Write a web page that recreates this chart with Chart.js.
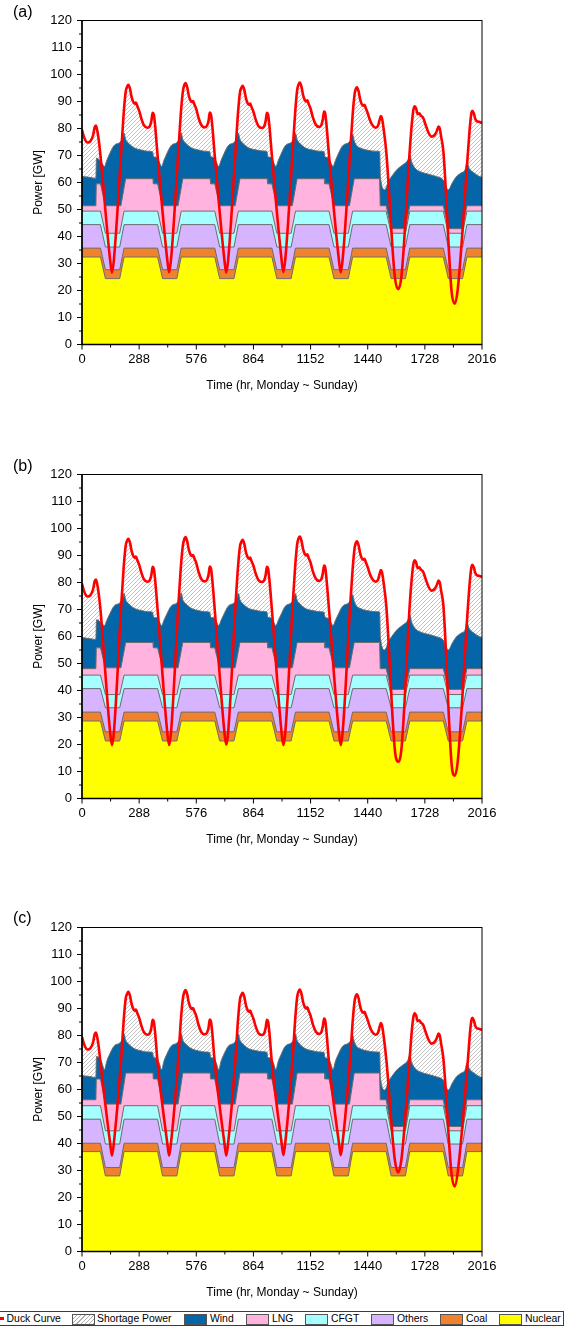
<!DOCTYPE html>
<html>
<head>
<meta charset="utf-8">
<title>Weekly duck curve and supply stack</title>
<script src="https://cdn.jsdelivr.net/npm/chart.js@4.4.1/dist/chart.umd.min.js"></script>
<style>
    html, body { margin: 0; padding: 0; background: #fff; }
    body { width: 574px; height: 1326px; position: relative; overflow: hidden; font-family: "Liberation Sans", Arial, sans-serif; color: #000; }
    .panel { position: absolute; left: 0; width: 574px; height: 400px; }
    .panel canvas { display: block; }
    .tag { position: absolute; left: 13px; font-size: 16px; line-height: 16px; }
    .legend-box { position: absolute; left: -1px; top: 1311px; width: 565px; height: 15px; border: 1px solid #3c3c3c; box-sizing: border-box; }
    .sw { position: absolute; top: 1314px; width: 23px; height: 10.5px; border: 1px solid #555; box-sizing: border-box; }
    .lbl { position: absolute; top: 1312px; font-size: 10.4px; line-height: 13px; white-space: nowrap; }
    .duck-mark { position: absolute; left: -8px; top: 1317px; width: 12px; height: 2.6px; background: #ff0000; }
</style>
</head>
<body>
<div class="panel" style="top:0px"><canvas id="panelA" width="574" height="400"></canvas></div>
<div class="panel" style="top:454px"><canvas id="panelB" width="574" height="400"></canvas></div>
<div class="panel" style="top:907px"><canvas id="panelC" width="574" height="400"></canvas></div>
<div class="tag" style="top:4px">(a)</div>
<div class="tag" style="top:458px">(b)</div>
<div class="tag" style="top:910px">(c)</div>

<div class="legend-box"></div>
<div class="duck-mark"></div>
<div class="lbl" style="left:6.6px">Duck Curve</div>
<div class="sw" style="left:72px;background:repeating-linear-gradient(-45deg,#b0b0b0 0 0.8px,#fff 0.8px 3px)"></div>
<div class="lbl" style="left:97px">Shortage Power</div>
<div class="sw" style="left:184px;background:#0466a8"></div>
<div class="lbl" style="left:210px">Wind</div>
<div class="sw" style="left:246px;background:#ffb3de"></div>
<div class="lbl" style="left:272px">LNG</div>
<div class="sw" style="left:305px;background:#a6ffff"></div>
<div class="lbl" style="left:331px">CFGT</div>
<div class="sw" style="left:371px;background:#d7b4ff"></div>
<div class="lbl" style="left:397px">Others</div>
<div class="sw" style="left:440px;background:#f0822e"></div>
<div class="lbl" style="left:466px">Coal</div>
<div class="sw" style="left:499px;background:#ffff00"></div>
<div class="lbl" style="left:525px">Nuclear</div>

<script>
// axis ticks
const hourTicks = [0, 288, 576, 864, 1152, 1440, 1728, 2016];
const hourMinorTicks = [144, 432, 720, 1008, 1296, 1584, 1872];
const powerTicks = [0, 10, 20, 30, 40, 50, 60, 70, 80, 90, 100, 110, 120];
const powerMinorTicks = [5, 15, 25, 35, 45, 55, 65, 75, 85, 95, 105, 115];

// thermal units follow the same daily trapezoid: 0 = normal level, 1 = midday turn-down
const thermalHr = [0, 93, 118, 190, 212, 381, 406, 478, 500, 669, 694, 766, 788, 957, 982, 1054, 1076,
    1245, 1270, 1342, 1364, 1533, 1558, 1630, 1652, 1821, 1846, 1918, 1940, 2016];
const thermalDip = [0, 0, 1, 1, 0, 0, 1, 1, 0, 0, 1, 1, 0, 0, 1, 1, 0,
    0, 1, 1, 0, 0, 1, 1, 0, 0, 1, 1, 0, 0];

// [normal, turned down] top of each layer, panels a / b / c
const nuclearLevels = [[32.4, 24.4], [28.7, 21.3], [37.0, 28.0]];
const coalLevels = [[35.7, 27.7], [32.0, 24.7], [40.1, 31.1]];
const othersLevels = [[44.4, 36.1], [40.7, 33.6], [49.0, 39.8]];
const cfgtLevels = [[49.4, 41.2], [45.7, 38.5], [54.0, 44.7]];

// LNG top
const lngHr = [0, 70, 72, 93, 118, 196, 220,
    358, 360, 381, 406, 484, 508,
    646, 648, 669, 694, 772, 796,
    934, 936, 957, 982, 1060, 1084,
    1222, 1224, 1245, 1270, 1348, 1372,
    1500, 1503, 1533, 1558, 1630, 1652,
    1821, 1846, 1918, 1940, 2016];
const lngA = [51.4, 51.4, 59.5, 59.5, 51.4, 51.4, 61.4,
    61.4, 59.5, 59.5, 51.4, 51.4, 61.4,
    61.4, 59.5, 59.5, 51.4, 51.4, 61.4,
    61.4, 59.5, 59.5, 51.4, 51.4, 61.4,
    61.4, 59.5, 59.5, 51.4, 51.4, 61.4,
    61.4, 51.4, 51.4, 42.9, 42.9, 51.4,
    51.4, 42.9, 42.9, 51.4, 51.4];
const lngB = [48.1, 48.1, 55.8, 55.8, 48.4, 48.4, 57.8,
    57.8, 55.8, 55.8, 48.4, 48.4, 57.8,
    57.8, 55.8, 55.8, 48.4, 48.4, 57.8,
    57.8, 55.8, 55.8, 48.4, 48.4, 57.8,
    57.8, 55.8, 55.8, 48.4, 48.4, 57.8,
    57.8, 48.1, 48.1, 40.4, 40.4, 48.1,
    48.1, 40.4, 40.4, 48.1, 48.1];
const lngC = [56.2, 56.2, 63.9, 63.9, 54.6, 54.6, 66.1,
    66.1, 63.9, 63.9, 54.6, 54.6, 66.1,
    66.1, 63.9, 63.9, 54.6, 54.6, 66.1,
    66.1, 63.9, 63.9, 54.6, 54.6, 66.1,
    66.1, 63.9, 63.9, 54.6, 54.6, 66.1,
    66.1, 56.2, 56.2, 46.3, 46.3, 56.2,
    56.2, 46.3, 46.3, 56.2, 56.2];

// wind top
const windHr = [0, 40, 70, 73, 86, 100, 113, 125, 141, 155, 166, 190, 204, 212, 220, 234, 250, 267,
    300, 330, 356, 360, 376, 390, 401, 413, 429, 443, 454, 478, 492, 500, 508, 522, 538, 555,
    588, 618, 644, 648, 664, 678, 689, 701, 717, 731, 742, 766, 780, 788, 796, 810, 826, 843,
    876, 906, 932, 936, 952, 966, 977, 989, 1005, 1019, 1030, 1054, 1068, 1076, 1084, 1098, 1114, 1131,
    1164, 1194, 1220, 1224, 1240, 1254, 1265, 1277, 1293, 1307, 1318, 1342, 1356, 1364, 1372, 1386, 1402, 1419,
    1452, 1480, 1500, 1504, 1526, 1545, 1567, 1590, 1618, 1643, 1652, 1662, 1680, 1702, 1750,
    1786, 1820, 1846, 1866, 1887, 1910, 1930, 1940, 1952, 1975, 2004, 2016];
const windA = [62.2, 61.9, 61.5, 69.0, 68.5, 67.2, 65.9, 68.2, 70.9, 73.0, 74.0, 74.8, 76.3, 78.3, 76.0, 74.6, 73.5, 72.7,
    72.0, 71.6, 71.4, 69.6, 69.3, 67.5, 65.9, 68.2, 70.9, 73.0, 74.0, 74.8, 76.3, 78.4, 76.0, 74.6, 73.5, 72.7,
    72.0, 71.6, 71.4, 69.6, 69.3, 67.5, 65.9, 68.2, 70.9, 73.0, 74.0, 74.8, 76.3, 78.3, 76.0, 74.6, 73.5, 72.7,
    72.1, 71.7, 71.5, 69.6, 69.3, 67.4, 65.9, 68.1, 70.8, 73.0, 74.0, 74.8, 76.2, 78.2, 75.9, 74.5, 73.4, 72.6,
    72.0, 71.6, 71.4, 69.6, 69.2, 67.4, 65.9, 68.1, 70.8, 72.9, 73.9, 74.7, 76.0, 77.8, 75.5, 73.5, 72.8, 72.3,
    71.8, 71.6, 71.5, 62.0, 57.3, 60.5, 62.9, 65.0, 66.6, 68.4, 70.3, 67.5, 65.2, 64.1, 63.0,
    62.2, 61.0, 57.3, 59.8, 62.2, 63.5, 64.6, 67.2, 65.2, 63.6, 62.2, 62.0];
const windB = [59.6, 59.2, 58.9, 66.2, 65.8, 64.8, 64.0, 66.0, 68.5, 70.6, 71.6, 72.4, 74.0, 76.0, 73.6, 72.2, 71.1, 70.3,
    69.6, 69.2, 69.0, 67.2, 66.9, 65.4, 64.0, 66.0, 68.5, 70.6, 71.6, 72.4, 74.0, 76.1, 73.6, 72.2, 71.1, 70.3,
    69.6, 69.2, 69.0, 67.2, 66.9, 65.4, 64.0, 66.0, 68.5, 70.6, 71.6, 72.4, 74.0, 76.0, 73.6, 72.2, 71.1, 70.3,
    69.7, 69.3, 69.1, 67.2, 66.9, 65.3, 64.0, 65.9, 68.4, 70.6, 71.6, 72.4, 73.9, 75.9, 73.5, 72.1, 71.0, 70.2,
    69.6, 69.2, 69.0, 67.2, 66.8, 65.3, 64.0, 65.9, 68.4, 70.5, 71.5, 72.3, 73.7, 75.5, 73.1, 71.1, 70.4, 69.9,
    69.4, 69.2, 69.1, 59.6, 55.0, 58.2, 60.6, 62.7, 64.3, 66.1, 68.0, 65.2, 62.9, 61.8, 60.7,
    59.9, 58.7, 55.0, 57.5, 59.9, 61.2, 62.3, 64.9, 62.9, 61.3, 59.9, 59.7];
const windC = [65.1, 64.8, 64.4, 72.2, 71.7, 70.0, 67.3, 70.5, 73.3, 75.4, 76.4, 77.2, 78.7, 80.6, 78.3, 76.9, 75.8, 75.0,
    74.3, 73.9, 73.7, 71.9, 71.6, 69.6, 67.3, 70.5, 73.3, 75.4, 76.4, 77.2, 78.7, 80.7, 78.3, 76.9, 75.8, 75.0,
    74.3, 73.9, 73.7, 71.9, 71.6, 69.6, 67.3, 70.5, 73.3, 75.4, 76.4, 77.2, 78.7, 80.6, 78.3, 76.9, 75.8, 75.0,
    74.4, 74.0, 73.8, 71.9, 71.6, 69.5, 67.3, 70.4, 73.2, 75.4, 76.4, 77.2, 78.6, 80.5, 78.2, 76.8, 75.7, 74.9,
    74.3, 73.9, 73.7, 71.9, 71.5, 69.5, 67.3, 70.4, 73.2, 75.3, 76.3, 77.1, 78.4, 80.1, 77.8, 75.8, 75.1, 74.6,
    74.1, 73.9, 73.8, 64.5, 59.8, 63.0, 65.4, 67.5, 69.1, 70.9, 72.8, 70.0, 67.7, 66.6, 65.5,
    64.7, 63.5, 59.8, 62.3, 64.7, 66.0, 67.1, 69.7, 67.7, 66.1, 64.7, 64.5];

// duck curve (demand net of solar) outside the midday troughs, same in all panels
const duckHr = [0, 12, 28, 42, 56, 64, 70, 76, 84, 93,
    198, 210, 220, 228, 234, 242, 250, 258, 266, 272, 278,
    288, 300, 314, 330, 342, 350, 356, 362, 368, 381,
    486, 498, 508, 516, 522, 530, 538, 546, 554, 560, 566,
    576, 588, 602, 618, 630, 638, 644, 650, 656, 669,
    774, 786, 796, 804, 810, 818, 826, 834, 842, 848, 854,
    864, 876, 890, 906, 918, 926, 932, 938, 944, 957,
    1062, 1074, 1084, 1092, 1098, 1106, 1114, 1122, 1130, 1136, 1142,
    1152, 1164, 1178, 1194, 1206, 1214, 1220, 1226, 1232, 1245,
    1352, 1364, 1374, 1380, 1386, 1394, 1402, 1410, 1418, 1424, 1430,
    1440, 1452, 1466, 1480, 1492, 1500, 1506, 1512, 1520, 1534,
    1652, 1662, 1670, 1677, 1684, 1692, 1700, 1708, 1719, 1732, 1746,
    1761, 1776, 1788, 1797, 1803, 1810, 1822,
    1946, 1956, 1963, 1968, 1975, 1982, 1990, 2000, 2008, 2016];
const duckGW = [79.5, 76.5, 74.8, 75.2, 77.5, 80.5, 81.1, 79.6, 76.0, 70.0,
    72.0, 85.5, 93.5, 95.6, 96.2, 94.7, 91.7, 89.9, 89.2, 89.6, 88.4,
    86.6, 83.5, 81.0, 80.3, 80.9, 83.0, 85.8, 85.2, 81.5, 70.0,
    72.0, 85.5, 93.5, 96.2, 96.8, 95.3, 92.3, 90.5, 89.8, 90.2, 89.0,
    87.2, 83.8, 81.2, 80.4, 81.0, 83.0, 85.9, 85.2, 81.5, 70.0,
    72.0, 85.5, 93.3, 95.2, 95.8, 94.3, 91.3, 89.5, 88.8, 89.2, 88.0,
    86.2, 83.2, 80.8, 80.2, 80.8, 83.0, 85.8, 85.1, 81.4, 70.0,
    72.0, 85.5, 94.0, 96.4, 97.0, 95.5, 92.5, 90.7, 90.0, 90.4, 89.2,
    87.4, 84.0, 81.5, 80.6, 81.2, 83.5, 86.3, 85.5, 81.5, 70.0,
    72.0, 85.0, 92.8, 94.7, 95.3, 93.8, 90.8, 89.0, 88.4, 88.8, 87.6,
    85.7, 83.0, 81.0, 80.3, 81.0, 83.2, 84.6, 83.8, 80.0, 71.0,
    72.0, 81.5, 86.8, 88.2, 87.4, 85.3, 85.6, 84.8, 84.0, 81.3, 78.5,
    77.0, 77.5, 79.0, 80.7, 80.1, 77.0, 71.0,
    72.0, 81.5, 85.8, 86.6, 85.6, 83.6, 82.7, 82.5, 82.3, 82.0];

// midday troughs of the duck curve, per panel
const dipHr = [142, 151, 161, 430, 439, 449, 718, 727, 737, 1006, 1015, 1025, 1295, 1304, 1314, 1576, 1593, 1611, 1862, 1878, 1894];
const dipA = [31.1, 26.6, 31.6, 31.2, 26.7, 31.7, 31.1, 26.6, 31.6, 31.3, 26.8, 31.8, 31.2, 26.7, 31.7, 25.5, 20.5, 26.0, 20.1, 15.1, 20.6];
const dipB = [24.3, 19.8, 24.8, 24.3, 19.8, 24.8, 24.4, 19.9, 24.9, 24.3, 19.8, 24.8, 24.3, 19.8, 24.8, 18.6, 13.6, 19.1, 13.4, 8.4, 13.9];
const dipC = [40.0, 35.5, 40.5, 40.0, 35.5, 40.5, 40.0, 35.5, 40.5, 40.2, 35.7, 40.7, 40.2, 35.7, 40.7, 34.3, 29.3, 34.8, 29.1, 24.1, 29.6];

const panelTops = [20.5, 20.5, 20.5];

function pairPoints(hours, values) {
    return hours.map((hr, i) => ({ x: hr, y: values[i] }));
}

function levelPoints(levels) {
    return thermalHr.map((hr, i) => ({ x: hr, y: levels[thermalDip[i]] }));
}

function duckPoints(dipValues) {
    const points = pairPoints(duckHr, duckGW).concat(pairPoints(dipHr, dipValues));
    return points.sort((left, right) => left.x - right.x);
}

function makeHatch() {
    const tile = document.createElement("canvas");
    tile.width = 4;
    tile.height = 4;
    const g = tile.getContext("2d");
    g.fillStyle = "#ffffff";
    g.fillRect(0, 0, 4, 4);
    g.strokeStyle = "#ababab";
    g.lineWidth = 0.7;
    g.beginPath();
    g.moveTo(-1, 1);
    g.lineTo(1, -1);
    g.moveTo(0, 4);
    g.lineTo(4, 0);
    g.moveTo(3, 5);
    g.lineTo(5, 3);
    g.stroke();
    return g.createPattern(tile, "repeat");
}

function layer(label, data, color, order, smooth) {
    return {
        label,
        data,
        order,
        backgroundColor: color,
        borderColor: "#6c6c6c",
        borderWidth: 1,
        fill: "origin",
        pointRadius: 0,
        tension: 0,
        cubicInterpolationMode: smooth ? "monotone" : "default",
    };
}

// frame plus major/minor tick marks, drawn from the scales
const frameTicks = {
    id: "frameTicks",
    afterDraw(chart) {
        const { ctx, chartArea: area, scales } = chart;
        ctx.save();
        ctx.strokeStyle = "#000";
        ctx.lineWidth = 1;
        ctx.strokeRect(area.left, area.top, area.right - area.left, area.bottom - area.top);

        ctx.beginPath();
        for (const v of hourTicks) {
            const x = scales.x.getPixelForValue(v);
            ctx.moveTo(x, area.bottom);
            ctx.lineTo(x, area.bottom + 5);
        }
        for (const v of hourMinorTicks) {
            const x = scales.x.getPixelForValue(v);
            ctx.moveTo(x, area.bottom);
            ctx.lineTo(x, area.bottom + 3);
        }
        for (const v of powerTicks) {
            const y = scales.y.getPixelForValue(v);
            ctx.moveTo(area.left, y);
            ctx.lineTo(area.left - 5, y);
        }
        for (const v of powerMinorTicks) {
            const y = scales.y.getPixelForValue(v);
            ctx.moveTo(area.left, y);
            ctx.lineTo(area.left - 3, y);
        }
        ctx.stroke();

        ctx.lineWidth = 1.5;
        ctx.beginPath();
        ctx.moveTo(area.left, area.top);
        ctx.lineTo(area.left, area.bottom);
        ctx.lineTo(area.right, area.bottom);
        ctx.stroke();
        ctx.restore();
    },
};

Chart.defaults.font.family = "'Liberation Sans', Arial, sans-serif";
Chart.defaults.color = "#000";

function drawPanel(canvasId, index, lng, wind, dip) {
    const hatch = makeHatch();
    const duck = duckPoints(dip);
    const datasets = [
        {
            label: "Duck Curve",
            data: duck,
            order: 0,
            borderColor: "#ff0000",
            borderWidth: 2.6,
            fill: false,
            pointRadius: 0,
            cubicInterpolationMode: "monotone",
        },
        {
            label: "Shortage Power",
            data: duck,
            order: 9,
            backgroundColor: hatch,
            borderWidth: 0,
            fill: "origin",
            pointRadius: 0,
            cubicInterpolationMode: "monotone",
        },
        layer("Wind", pairPoints(windHr, wind), "#0466a8", 8, true),
        layer("LNG", pairPoints(lngHr, lng), "#ffb3de", 7, false),
        layer("CFGT", levelPoints(cfgtLevels[index]), "#a6ffff", 6, false),
        layer("Others", levelPoints(othersLevels[index]), "#d7b4ff", 5, false),
        layer("Coal", levelPoints(coalLevels[index]), "#f0822e", 4, false),
        layer("Nuclear", levelPoints(nuclearLevels[index]), "#ffff00", 3, false),
    ];

    return new Chart(document.getElementById(canvasId), {
        type: "line",
        data: { datasets },
        options: {
            responsive: false,
            animation: false,
            devicePixelRatio: 1,
            events: [],
            layout: { padding: { top: panelTops[index], right: 92, bottom: 0, left: 0 } },
            plugins: {
                legend: { display: false },
                tooltip: { enabled: false },
            },
            scales: {
                x: {
                    type: "linear",
                    min: 0,
                    max: 2016,
                    afterBuildTicks: (scale) => {
                        scale.ticks = hourTicks.map((value) => ({ value }));
                    },
                    afterFit: (scale) => {
                        scale.height = 55.5;
                    },
                    grid: { display: false, drawTicks: false },
                    border: { display: false },
                    ticks: {
                        padding: 7,
                        autoSkip: false,
                        maxRotation: 0,
                        font: { size: 13 },
                        callback: (value) => String(value),
                    },
                    title: {
                        display: true,
                        text: "Time (hr, Monday ~ Sunday)",
                        font: { size: 12 },
                        padding: { top: 0, bottom: 7.5 },
                    },
                },
                y: {
                    type: "linear",
                    min: 0,
                    max: 120,
                    afterBuildTicks: (scale) => {
                        scale.ticks = powerTicks.map((value) => ({ value }));
                    },
                    afterFit: (scale) => {
                        scale.width = 82;
                    },
                    grid: { display: false, drawTicks: false },
                    border: { display: false },
                    ticks: {
                        padding: 10,
                        font: { size: 13 },
                        callback: (value) => String(value),
                    },
                    title: {
                        display: true,
                        text: "Power [GW]",
                        font: { size: 12 },
                        padding: { top: 31.8, bottom: 0 },
                    },
                },
            },
        },
        plugins: [frameTicks],
    });
}

drawPanel("panelA", 0, lngA, windA, dipA);
drawPanel("panelB", 1, lngB, windB, dipB);
drawPanel("panelC", 2, lngC, windC, dipC);
</script>
</body>
</html>
